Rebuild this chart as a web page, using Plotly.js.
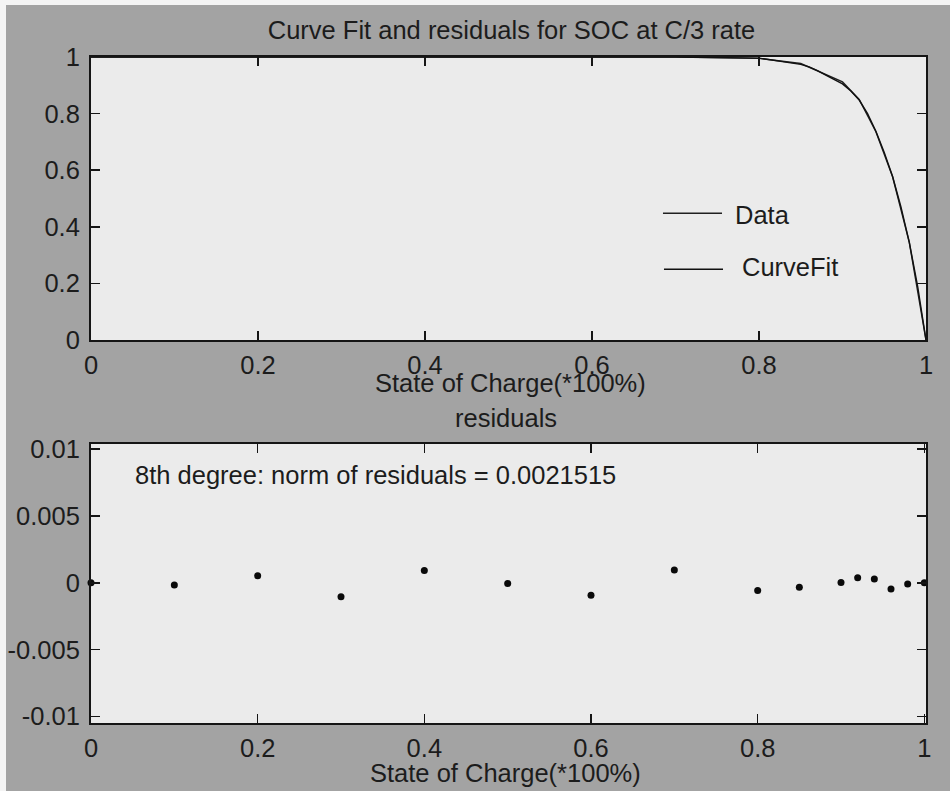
<!DOCTYPE html>
<html>
<head>
<meta charset="utf-8">
<script src="https://cdn.plot.ly/plotly-3.0.1.min.js"></script>
<style>
  html, body { margin: 0; padding: 0; background: #f4f4f4; }
  #chart { position: absolute; left: 6px; top: 5px; width: 944px; height: 786px; }
</style>
</head>
<body>
<div id="chart"></div>
<script>
// Measured SOC curve at C/3 (state of charge fraction vs normalised value)
const dataSoc = [0, 0.1, 0.2, 0.3, 0.4, 0.5, 0.6, 0.7, 0.8, 0.85, 0.9, 0.92, 0.94, 0.96, 0.98, 1.0];
const dataVal = [1.0, 1.0, 1.0, 1.0, 1.0, 1.0, 1.0, 1.0, 0.995, 0.977, 0.912, 0.85, 0.736, 0.577, 0.345, 0.0];

// 8th-degree polynomial fit, sampled for drawing
const fitSoc = [0, 0.1, 0.2, 0.3, 0.4, 0.5, 0.6, 0.7, 0.8, 0.81, 0.82, 0.83, 0.84, 0.85, 0.86, 0.87, 0.88, 0.89, 0.9, 0.91, 0.92, 0.93, 0.94, 0.95, 0.96, 0.97, 0.98, 0.99, 1.0];
const fitVal = [1.0, 1.0, 1.0, 1.0, 1.0, 1.0, 1.0, 1.0, 0.996, 0.992, 0.988, 0.984, 0.98, 0.974, 0.965, 0.952, 0.936, 0.921, 0.905, 0.88, 0.848, 0.8, 0.738, 0.663, 0.578, 0.47, 0.345, 0.19, 0.0];

// Residuals of the fit at each measured point
const residSoc = [0, 0.1, 0.2, 0.3, 0.4, 0.5, 0.6, 0.7, 0.8, 0.85, 0.9, 0.92, 0.94, 0.96, 0.98, 1.0];
const residVal = [0, -0.00017, 0.00053, -0.00105, 0.00092, -0.00005, -0.00093, 0.00096, -0.00057, -0.00034, 0.00002, 0.00038, 0.00028, -0.00047, -0.00009, 0];

// Tick labels
const xTicks = [0, 0.2, 0.4, 0.6, 0.8, 1];
const xTickText = ['0', '0.2', '0.4', '0.6', '0.8', '1'];
const yTopTicks = [0, 0.2, 0.4, 0.6, 0.8, 1];
const yTopTickText = ['0', '0.2', '0.4', '0.6', '0.8', '1'];
const yResTicks = [-0.01, -0.005, 0, 0.005, 0.01];
const yResTickText = ['-0.01', '-0.005', '0', '0.005', '0.01'];

const titleText = 'Curve Fit and residuals for SOC at C/3 rate';
const xTitle = 'State of Charge(*100%)';
const resTitle = 'residuals';
const normText = '8th degree: norm of residuals = 0.0021515';
const legendNames = ['Data', 'CurveFit'];

const FONT = 'Liberation Sans, Arial, sans-serif';
const INK = '#1c1c1c';
const FS = 25.5;

const traces = [
  { x: dataSoc, y: dataVal, name: legendNames[0], type: 'scatter', mode: 'lines',
    line: { color: '#202020', width: 1.4 }, xaxis: 'x', yaxis: 'y', showlegend: false },
  { x: fitSoc, y: fitVal, name: legendNames[1], type: 'scatter', mode: 'lines',
    line: { color: '#111111', width: 1.4 }, xaxis: 'x', yaxis: 'y', showlegend: false },
  { x: residSoc, y: residVal, name: resTitle, type: 'scatter', mode: 'markers',
    marker: { color: '#0a0a0a', size: 7 }, xaxis: 'x2', yaxis: 'y2', showlegend: false, cliponaxis: false }
];

const axisCommon = {
  showline: true, linecolor: '#151515', linewidth: 2,
  ticks: 'inside', ticklen: 9, tickwidth: 1.6, tickcolor: '#151515',
  mirror: 'ticks', showgrid: false, zeroline: false,
  tickfont: { family: FONT, size: FS, color: INK },
  tickmode: 'array', fixedrange: true
};

const layout = {
  width: 944, height: 786,
  margin: { l: 85, r: 24, t: 52, b: 68 },
  paper_bgcolor: '#a3a3a3',
  plot_bgcolor: '#ebebeb',
  font: { family: FONT, color: INK },
  title: { text: titleText, font: { family: FONT, size: FS, color: INK },
           x: 0.5355, xanchor: 'center', xref: 'container', y: 0.968, yanchor: 'middle', yref: 'container' },
  xaxis: Object.assign({}, axisCommon, { domain: [0, 1], anchor: 'y', range: [0, 1],
           tickvals: xTicks, ticktext: xTickText, ticklabelstandoff: 1 }),
  yaxis: Object.assign({}, axisCommon, { domain: [0.575, 1], anchor: 'x', range: [0, 1],
           tickvals: yTopTicks, ticktext: yTopTickText, ticklabelstandoff: 4 }),
  xaxis2: Object.assign({}, axisCommon, { domain: [0, 1], anchor: 'y2', range: [0, 1.002],
           tickvals: xTicks, ticktext: xTickText, ticklabelstandoff: 1 }),
  yaxis2: Object.assign({}, axisCommon, { domain: [0, 0.419], anchor: 'x2', range: [-0.0105, 0.0104],
           tickvals: yResTicks, ticktext: yResTickText, ticklabelstandoff: 4 }),
  shapes: [
    { type: 'line', xref: 'paper', yref: 'paper', x0: 0.685, x1: 0.7557, y0: 0.7653, y1: 0.7653,
      line: { color: '#202020', width: 1.4 } },
    { type: 'line', xref: 'paper', yref: 'paper', x0: 0.6862, x1: 0.7569, y0: 0.6812, y1: 0.6812,
      line: { color: '#111111', width: 1.4 } }
  ],
  annotations: [
    { text: legendNames[0], xref: 'paper', yref: 'paper', x: 0.7689, y: 0.7628, xanchor: 'left', yanchor: 'middle',
      showarrow: false, font: { family: FONT, size: FS, color: INK } },
    { text: legendNames[1], xref: 'paper', yref: 'paper', x: 0.7772, y: 0.6847, xanchor: 'left', yanchor: 'middle',
      showarrow: false, font: { family: FONT, size: FS, color: INK } },
    { text: xTitle, xref: 'paper', yref: 'paper', x: 0.5018, y: 0.5105, xanchor: 'center', yanchor: 'middle',
      showarrow: false, font: { family: FONT, size: FS, color: INK } },
    { text: resTitle, xref: 'paper', yref: 'paper', x: 0.497, y: 0.458, xanchor: 'center', yanchor: 'middle',
      showarrow: false, font: { family: FONT, size: FS, color: INK } },
    { text: normText, xref: 'paper', yref: 'paper', x: 0.0503, y: 0.372, xanchor: 'left', yanchor: 'middle',
      showarrow: false, font: { family: FONT, size: FS, color: INK } },
    { text: xTitle, xref: 'paper', yref: 'paper', x: 0.497, y: -0.075, xanchor: 'center', yanchor: 'middle',
      showarrow: false, font: { family: FONT, size: FS, color: INK } }
  ]
};

Plotly.newPlot('chart', traces, layout, { displayModeBar: false, staticPlot: true });
</script>
</body>
</html>
